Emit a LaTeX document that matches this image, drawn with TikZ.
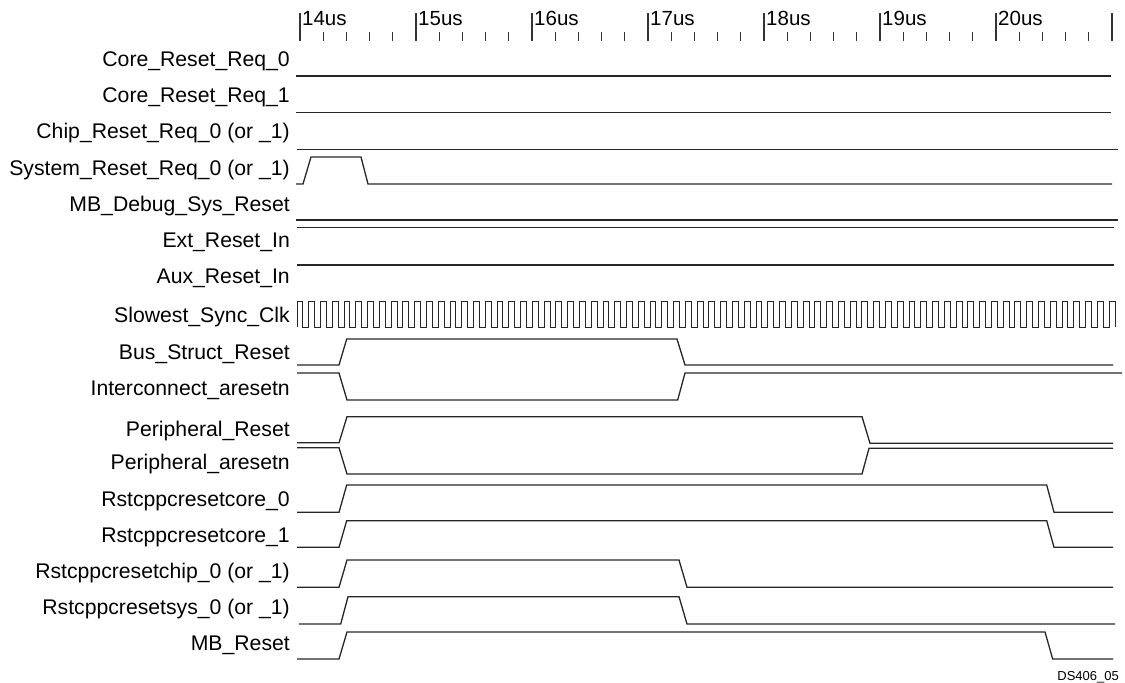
\documentclass[tikz,border=0pt]{standalone}
\usepackage{fontspec}
\setmainfont{Liberation Sans}
\begin{document}
\begin{tikzpicture}[x=1pt,y=-1pt,
  sig/.style={line width=1.3pt,line join=miter,draw=black!85},
  lbl/.style={anchor=base east,inner sep=0pt,font=\fontsize{21.2}{25}\selectfont},
  tlbl/.style={anchor=base west,inner sep=0pt,font=\fontsize{20.5}{24}\selectfont},
  tick/.style={line width=1.1pt,draw=black!80}]
\useasboundingbox (0,0) rectangle (1125,683);
% time axis
\foreach \k/\t in {0/14,1/15,2/16,3/17,4/18,5/19,6/20}{
  \draw[tick] (300+116*\k,13) -- (300+116*\k,41);
  \node[tlbl] (t\t) at (302+116*\k,25) {\t us};
}
\draw[tick] (1112,13) -- (1112,41);
\foreach \j in {1,...,34}{
  \pgfmathtruncatemacro{\m}{mod(\j,5)}
  \ifnum\m>0 \draw[tick] (300+23.2*\j,32) -- (300+23.2*\j,41);\fi
}
% labels
\node[lbl] (l1) at (290,66) {Core\_Reset\_Req\_0};
\node[lbl] (l2) at (290,102) {Core\_Reset\_Req\_1};
\node[lbl] (l3) at (290,138.5) {Chip\_Reset\_Req\_0 (or \_1)};
\node[lbl] (l4) at (290,175) {System\_Reset\_Req\_0 (or \_1)};
\node[lbl] (l5) at (290,211) {MB\_Debug\_Sys\_Reset};
\node[lbl] (l6) at (290,247) {Ext\_Reset\_In};
\node[lbl] (l7) at (290,283) {Aux\_Reset\_In};
\node[lbl] (l8) at (290,322) {Slowest\_Sync\_Clk};
\node[lbl] (l9) at (290,359) {Bus\_Struct\_Reset};
\node[lbl] (l10) at (290,395) {Interconnect\_aresetn};
\node[lbl] (l11) at (290,436) {Peripheral\_Reset};
\node[lbl] (l12) at (290,469) {Peripheral\_aresetn};
\node[lbl] (l13) at (290,506) {Rstcppcresetcore\_0};
\node[lbl] (l14) at (290,542) {Rstcppcresetcore\_1};
\node[lbl] (l15) at (290,578) {Rstcppcresetchip\_0 (or \_1)};
\node[lbl] (l16) at (290,614) {Rstcppcresetsys\_0 (or \_1)};
\node[lbl] (l17) at (290,650) {MB\_Reset};
\node[anchor=base east,inner sep=0pt,font=\fontsize{13}{15}\selectfont] (ds) at (1119,680.5) {DS406\_05};
% waveforms
\draw[sig] (296,76) -- (1111,76);
\draw[sig] (296,112.7) -- (1111,112.7);
\draw[sig] (297,149.3) -- (1118,149.3);
\draw[sig] (296,184) -- (303,184) -- (311,157) -- (361,157) -- (368,184) -- (1112,184);
\draw[sig] (296,220) -- (1118,220);
\draw[sig] (297,227.7) -- (1114,227.7);
\draw[sig] (297,265) -- (1114,265);
\draw[sig,line width=1pt] (297,327) \foreach \i in {1,...,69}{ -- ++(0,-25.3) -- ++(5.885,0) -- ++(0,25.3) -- ++(5.885,0)} -- ++(0,-25.3) -- ++(5.885,0) -- ++(0,25.3);
\draw[sig] (297,365) -- (339,365) -- (346.7,339) -- (677,339) -- (685,365) -- (1113,365);
\draw[sig] (297,373) -- (339,373) -- (347,400) -- (677.7,400) -- (685,373) -- (1122,373);
\draw[sig] (297,442.7) -- (339,442.7) -- (347,416.7) -- (862,416.7) -- (870,443.3) -- (1113,443.3);
\draw[sig] (297,447.7) -- (339,447.7) -- (347,474) -- (862,474) -- (869,448.3) -- (1113,448.3);
\draw[sig] (297,512.3) -- (339,512.3) -- (346.7,485) -- (1046.7,485) -- (1054,512.3) -- (1113,512.3);
\draw[sig] (297,547.3) -- (339,547.3) -- (346.7,520.7) -- (1046.7,520.7) -- (1054,547.3) -- (1113,547.3);
\draw[sig] (297,587.3) -- (339,587.3) -- (347,560) -- (679,560) -- (687,587.3) -- (1113,587.3);
\draw[sig] (299,624) -- (340.7,624) -- (348,596.7) -- (679,596.7) -- (687,624) -- (1115,624);
\draw[sig] (297,659) -- (339,659) -- (347,632) -- (1045,632) -- (1052.7,659) -- (1113,659);
\end{tikzpicture}
\end{document}
